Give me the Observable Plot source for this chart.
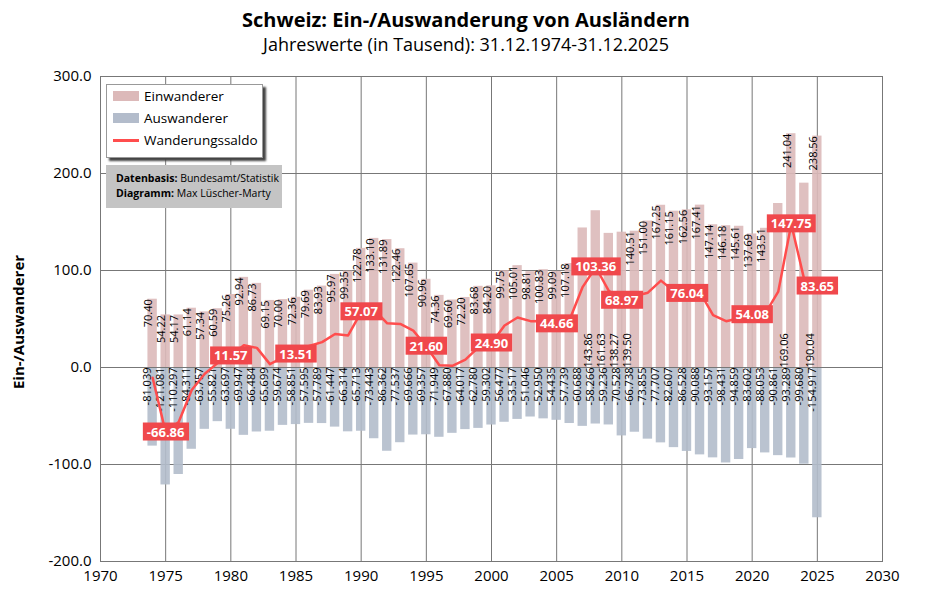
<!DOCTYPE html>
<html><head><meta charset="utf-8">
<script src="https://cdn.jsdelivr.net/npm/d3@7"></script>
<script src="https://cdn.jsdelivr.net/npm/@observablehq/plot@0.6"></script>
<style>
body{margin:0;background:#fff;font-family:"Open Sans",sans-serif;}
#wrap{position:relative;width:932px;height:598px;}
#t{position:absolute;top:6px;width:932px;text-align:center;font-weight:bold;font-size:20px;}
#s{position:absolute;top:32px;width:932px;text-align:center;font-size:18px;}
#chart{position:absolute;top:62px;left:0;}
#leg{position:absolute;left:106px;top:84px;width:155px;height:72px;background:#fff;border:1px solid #999;box-shadow:3px 3px 2px #444;font-size:13.5px;}
#leg div{display:flex;align-items:center;height:22px;margin-left:6px;}
#leg span.sw{display:inline-block;width:26px;height:10px;margin-right:5px;}
#src{position:absolute;left:106px;top:165px;width:176px;height:43px;background:#c4c4c4;font-size:10.5px;padding:6px 0 0 10px;box-sizing:border-box;line-height:15px;}
</style></head><body>
<div id="wrap">
<div id="t">Schweiz: Ein-/Auswanderung von Ausländern</div>
<div id="s">Jahreswerte (in Tausend): 31.12.1974-31.12.2025</div>
<div id="chart"></div>
<div id="leg">
<div><span class="sw" style="background:#dcb9b9"></span>Einwanderer</div>
<div><span class="sw" style="background:#b3bccb"></span>Auswanderer</div>
<div><span class="sw" style="height:3px;background:#ff4d4d"></span>Wanderungssaldo</div>
</div>
<div id="src"><b>Datenbasis:</b> Bundesamt/Statistik<br><b>Diagramm:</b> Max Lüscher-Marty</div>
</div>
<script>
const years = d3.range(1974, 2026);
const einwanderer = [70.40,54.22,54.17,61.14,57.34,60.59,75.26,92.94,86.73,69.15,70.00,72.36,79.69,83.93,95.97,99.35,122.78,133.10,131.89,122.46,107.65,90.96,74.36,69.60,72.20,83.68,84.20,99.75,105.01,98.81,100.83,99.09,107.18,143.86,161.63,138.27,139.50,140.51,151.00,167.25,161.15,162.56,167.41,147.14,146.18,145.61,137.69,143.51,169.06,241.04,190.04,238.56];
const auswanderer = [-81.039,-121.081,-110.297,-84.311,-63.757,-55.821,-63.697,-69.947,-66.484,-65.699,-59.674,-58.851,-57.595,-57.789,-61.447,-66.314,-65.713,-73.443,-86.362,-77.537,-69.666,-69.357,-71.949,-67.880,-64.017,-62.780,-59.302,-56.477,-53.517,-51.046,-52.950,-54.435,-57.739,-60.688,-58.266,-59.236,-70.528,-66.738,-73.855,-77.707,-82.607,-86.528,-90.088,-93.157,-98.431,-94.859,-83.602,-88.053,-90.861,-93.289,-99.680,-154.917];
const saldoLabelYears = [1975,1980,1985,1990,1995,2000,2005,2008,2010,2015,2020,2023,2025];
const saldoLabels = ["-66.86","11.57","13.51","57.07","21.60","24.90","44.66","103.36","68.97","76.04","54.08","147.75","83.65"];
const baseLabelYears = [2007,2008,2009,2010,2022,2024];
const yTicks = [-200,-100,0,100,200,300];
const xTicks = [1970,1975,1980,1985,1990,1995,2000,2005,2010,2015,2020,2025,2030];

const data = years.map((y,i)=>({year:y, ein:einwanderer[i], aus:auswanderer[i], saldo:einwanderer[i]+auswanderer[i]}));
const topLab = data.filter(d=>!baseLabelYears.includes(d.year));
const baseLab = data.filter(d=>baseLabelYears.includes(d.year));
const sl = data.filter(d=>saldoLabelYears.includes(d.year)).map((d)=>({...d, lab:saldoLabels[saldoLabelYears.indexOf(d.year)]}));
const bw = 0.36;

const plot = Plot.plot({
  width:932, height:536, marginTop:14, marginBottom:37, marginLeft:100, marginRight:50,
  x:{domain:[1970,2030], ticks:xTicks, tickFormat:d=>String(d), label:null},
  y:{domain:[-200,300], ticks:yTicks, tickFormat:d=>d.toFixed(1), label:null},
  style:{fontFamily:"Open Sans, sans-serif", fontSize:"15px", color:"#000"},
  marks:[
    Plot.gridX(xTicks,{stroke:"#777",strokeOpacity:1}),
    Plot.gridY(yTicks,{stroke:"#777",strokeOpacity:1}),
    Plot.rectY(data,{x1:d=>d.year-bw,x2:d=>d.year+bw,y:"ein",fill:"#dcb9b9",fillOpacity:0.9}),
    Plot.rectY(data,{x1:d=>d.year-bw,x2:d=>d.year+bw,y:"aus",fill:"#b3bccb",fillOpacity:0.9}),
    Plot.ruleY([0],{stroke:"#777"}),
    Plot.frame({stroke:"#777"}),
    Plot.text(topLab,{x:"year",y:"ein",text:d=>d.ein.toFixed(2),rotate:-90,textAnchor:"end",dx:-4,dy:0,fontSize:11}),
    Plot.text(baseLab,{x:"year",y:0,text:d=>d.ein.toFixed(2),rotate:-90,textAnchor:"start",dx:6,dy:0,fontSize:11}),
    Plot.text(data,{x:"year",y:0,text:d=>d.aus.toFixed(3),rotate:-90,textAnchor:"end",dx:-5,dy:0,fontSize:11}),
    Plot.line(data,{x:"year",y:"saldo",stroke:"#ff4d4d",strokeWidth:2.5}),
    Plot.text(sl,{x:"year",y:"saldo",text:"lab",fill:"#fff",fontWeight:"bold",fontSize:13,className:"slab"}),
    Plot.axisY({ticks:yTicks,tickFormat:d=>d.toFixed(1),tickSize:0,fontSize:15,label:null}),
    Plot.axisX({ticks:xTicks,tickFormat:d=>String(d),tickSize:0,fontSize:15,label:null})
  ]
});
document.getElementById("chart").appendChild(plot);
const svg = d3.select(plot);
svg.selectAll("g.slab text").each(function(){
  const b=this.getBBox();
  const t=this.getAttribute("transform");
  d3.select(this.parentNode).insert("rect",()=>this).attr("x",b.x-4).attr("y",b.y).attr("width",b.width+8).attr("height",b.height)
    .attr("fill","#f0484c").attr("transform",t);
});
svg.append("text").attr("transform","translate(24,260) rotate(-90)").attr("text-anchor","middle")
  .attr("font-weight","bold").attr("font-size",15).text("Ein-/Auswanderer");
</script>
</body></html>
